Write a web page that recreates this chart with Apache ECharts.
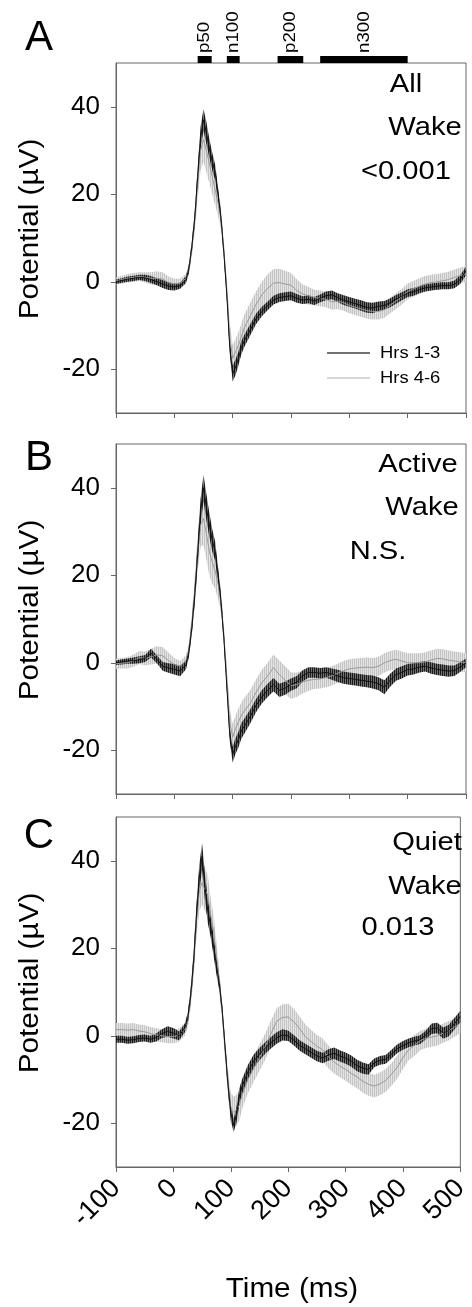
<!DOCTYPE html>
<html><head><meta charset="utf-8">
<script src="https://cdn.jsdelivr.net/npm/echarts@6/dist/echarts.min.js"></script>
<style>html,body{margin:0;padding:0;background:#fff}#c{width:472px;height:1307px}</style>
</head><body><div id="c"></div>
<script>
// ---- data ----
const time = [
 -100,-90,-80,-70,-60,-50,-40,-30,-20,-10,
 0,10,20,25,30,35,40,45,50,55,
 60,65,70,75,80,85,90,95,100,105,
 110,115,120,130,140,150,160,170,180,190,
 200,210,220,230,240,250,260,270,280,290,
 300,310,320,330,340,350,360,370,380,390,
 400,410,420,430,440,450,460,470,480,490,
 500];

// Panel A (All Wake)
const aDarkMean = [
 0.0,0.3,0.6,0.8,1.0,0.9,0.5,0.0,-0.5,-1.0,
 -1.2,-0.9,0.5,3.0,8.0,14.5,24.0,33.0,37.0,34.0,
 30.5,27.5,25.0,20.0,14.5,6.5,-3.0,-15.0,-21.0,-19.5,
 -17.5,-15.0,-13.5,-11.0,-8.5,-6.8,-5.5,-4.2,-3.6,-3.4,
 -3.2,-3.8,-4.2,-4.0,-4.4,-3.8,-3.2,-3.0,-3.6,-4.2,
 -4.6,-5.0,-5.4,-5.9,-6.0,-5.6,-5.4,-4.8,-4.0,-3.3,
 -2.6,-2.3,-1.8,-1.4,-1.2,-1.0,-0.9,-0.9,-0.6,0.5,
 2.5];
const aDarkSem = [
 0.5,0.5,0.6,0.6,0.6,0.7,0.8,0.8,0.9,0.9,
 0.8,0.7,0.8,1.0,1.2,1.5,2.0,2.5,2.5,2.5,
 2.2,2.0,1.8,1.5,1.2,1.0,1.2,1.5,1.8,1.8,
 1.6,1.5,1.4,1.3,1.2,1.1,1.0,1.0,1.0,1.0,
 1.0,1.0,0.9,0.9,0.9,0.9,1.0,1.0,1.0,1.1,
 1.1,1.1,1.2,1.2,1.2,1.1,1.0,1.0,1.0,0.9,
 0.9,0.9,0.8,0.8,0.8,0.8,0.8,0.8,0.9,1.0,
 1.0];
const aLightMean = [
 0.2,0.5,0.8,1.0,1.2,1.0,0.8,0.8,0.6,-0.2,
 -0.5,-0.3,0.8,3.0,7.5,14.0,22.5,30.0,32.5,30.0,
 27.0,24.0,21.0,18.0,14.5,7.0,-2.0,-12.5,-17.5,-16.0,
 -14.5,-12.5,-10.5,-7.8,-5.2,-3.0,-1.5,-0.3,-0.2,-0.5,
 -0.8,-2.0,-2.8,-3.2,-3.6,-3.8,-4.0,-4.6,-4.4,-4.8,
 -5.4,-5.8,-6.2,-6.6,-6.8,-6.8,-6.4,-5.4,-4.4,-3.4,
 -2.2,-1.6,-1.0,-0.5,-0.2,0.0,0.2,0.5,1.0,1.4,
 1.8];
const aLightSem = [
 0.8,0.9,1.0,1.0,1.0,1.2,1.4,1.6,1.6,1.4,
 1.2,1.0,1.0,1.2,1.8,2.5,3.5,4.5,5.0,5.0,
 4.5,4.0,3.5,3.0,2.5,2.0,2.5,3.0,3.0,3.0,
 3.0,3.0,3.0,3.0,3.0,3.0,3.2,3.2,3.2,3.0,
 2.8,2.5,2.2,2.0,1.8,1.8,1.8,1.8,1.8,1.8,
 1.8,1.8,1.8,1.8,1.8,1.8,1.8,1.8,1.8,1.8,
 1.8,1.8,1.8,1.8,1.8,1.8,1.8,1.8,1.8,1.8,
 1.8];

// Panel B (Active Wake)
const bDarkMean = [
 0.0,0.2,0.4,0.5,0.7,1.0,2.2,0.8,-0.8,-1.2,
 -1.5,-1.9,-0.5,2.5,8.0,15.5,25.0,34.5,40.0,35.5,
 31.5,28.0,25.5,20.0,14.0,5.5,-5.5,-16.5,-21.0,-19.0,
 -17.5,-15.5,-14.5,-12.3,-9.8,-7.8,-6.3,-5.0,-6.3,-5.8,
 -5.0,-4.4,-3.0,-2.2,-2.2,-2.4,-2.2,-2.6,-3.0,-3.4,
 -3.6,-3.8,-4.0,-4.2,-4.4,-4.8,-5.6,-4.0,-2.7,-2.2,
 -1.6,-1.4,-1.0,-0.8,-1.2,-1.5,-1.7,-1.9,-1.8,-1.0,
 0.0];
const bDarkSem = [
 0.5,0.6,0.6,0.7,0.8,0.8,1.0,0.9,1.0,1.1,
 1.2,1.2,1.0,1.2,1.5,2.0,2.5,3.0,3.0,3.0,
 2.8,2.5,2.2,1.8,1.4,1.0,1.2,1.5,1.8,1.8,
 1.8,1.8,1.7,1.6,1.5,1.5,1.5,1.5,1.5,1.5,
 1.4,1.4,1.3,1.2,1.2,1.2,1.2,1.3,1.4,1.4,
 1.4,1.4,1.4,1.4,1.5,1.5,1.6,1.5,1.4,1.4,
 1.3,1.3,1.2,1.2,1.3,1.3,1.3,1.3,1.2,1.1,
 1.0];
const bLightMean = [
 -0.2,-0.1,0.0,0.5,1.2,1.0,1.4,1.8,1.6,0.5,
 -0.4,-0.8,0.5,3.0,9.0,16.5,25.0,31.5,33.0,29.5,
 25.5,23.0,21.0,18.0,14.0,6.0,-3.5,-13.5,-17.0,-15.0,
 -13.5,-12.0,-11.0,-9.3,-6.8,-4.6,-3.0,-1.1,-2.7,-4.0,
 -5.2,-5.0,-4.4,-4.0,-3.8,-3.7,-3.4,-3.0,-2.4,-1.8,
 -1.4,-1.2,-1.1,-1.0,-1.1,-0.8,0.0,0.5,0.8,0.4,
 0.0,0.0,0.0,0.2,0.6,1.0,0.9,0.6,0.4,0.2,
 0.0];
const bLightSem = [
 1.2,1.2,1.3,1.4,1.5,1.6,1.8,2.0,2.0,1.8,
 1.5,1.2,1.2,1.5,2.2,3.0,4.0,5.0,6.0,6.0,
 5.5,5.0,4.0,3.5,2.8,2.2,2.5,3.0,3.0,3.0,
 3.0,3.0,3.0,3.0,3.0,3.0,3.0,3.0,3.2,3.2,
 3.0,2.8,2.6,2.4,2.2,2.2,2.2,2.2,2.2,2.2,
 2.2,2.2,2.2,2.2,2.2,2.2,2.2,2.2,2.2,2.2,
 2.2,2.2,2.2,2.2,2.2,2.2,2.2,2.2,2.2,2.2,
 2.2];

// Panel C (Quiet Wake)
const cDarkMean = [
 -0.8,-0.8,-1.0,-0.9,-0.6,-0.5,-0.8,-0.4,0.5,1.0,
 0.6,0.0,1.8,4.0,9.0,16.5,27.0,36.0,41.0,34.0,
 28.5,25.0,20.5,16.0,12.0,6.0,-2.5,-11.0,-17.5,-20.5,
 -18.0,-13.8,-11.5,-8.2,-5.8,-4.2,-2.8,-1.6,-0.5,0.2,
 0.0,-1.0,-2.2,-3.0,-3.8,-4.6,-5.1,-4.4,-4.0,-4.6,
 -5.1,-5.8,-6.8,-7.4,-7.7,-6.2,-5.6,-5.4,-4.2,-3.0,
 -2.2,-1.6,-1.2,-0.9,0.2,1.6,1.8,0.6,1.2,2.8,
 4.4];
const cDarkSem = [
 0.8,0.8,0.8,0.8,0.8,0.8,0.8,0.9,1.0,1.2,
 1.2,1.0,1.0,1.2,1.5,2.0,2.5,3.0,3.0,3.0,
 2.8,2.5,2.2,2.0,1.6,1.2,1.2,1.5,1.8,1.5,
 1.8,1.8,1.7,1.6,1.5,1.4,1.3,1.3,1.3,1.3,
 1.2,1.2,1.2,1.2,1.2,1.2,1.2,1.3,1.3,1.3,
 1.3,1.3,1.3,1.3,1.2,1.0,1.0,1.0,1.0,1.0,
 1.0,1.0,1.0,1.0,1.0,1.2,1.2,1.3,1.3,1.3,
 1.3];
const cLightMean = [
 1.4,1.4,1.3,1.4,1.1,0.9,0.5,0.2,0.0,-0.2,
 -0.2,0.2,1.5,3.5,8.5,16.0,26.0,33.0,35.0,33.5,
 32.0,27.5,24.0,18.5,12.5,5.5,-3.0,-10.5,-16.5,-17.5,
 -17.0,-15.8,-13.5,-10.0,-7.5,-5.0,-2.5,0.5,3.3,4.2,
 4.3,3.2,1.6,-0.2,-1.3,-2.4,-3.2,-4.8,-6.0,-6.9,
 -7.7,-8.6,-9.4,-10.4,-11.1,-11.5,-11.0,-10.2,-8.8,-7.2,
 -5.0,-3.2,-2.2,-1.1,-0.6,-0.3,0.0,0.6,1.2,2.0,
 2.9];
const cLightSem = [
 1.5,1.5,1.5,1.5,1.5,1.5,1.5,1.5,1.5,1.5,
 1.5,1.5,1.5,1.8,2.2,3.0,4.0,4.5,5.0,5.0,
 4.5,4.0,3.5,3.0,2.5,2.0,2.5,3.0,3.5,3.5,
 3.5,3.5,3.2,3.0,3.0,3.0,3.0,3.0,3.0,3.0,
 3.0,3.0,2.8,2.8,2.6,2.6,2.6,2.6,2.6,2.6,
 2.6,2.6,2.6,2.6,2.6,2.6,2.6,2.6,2.6,2.6,
 2.6,2.4,2.4,2.2,2.2,2.2,2.2,2.2,2.2,2.2,
 2.2];

const xTicks = [-100,0,100,200,300,400,500];
const yTicks = [-20,0,20,40];
const compNames = ['p50','n100','p200','n300'];
const compStart = [40,90,177,250];
const compEnd = [64,112,221,400];
const panelLetters = ['A','B','C'];
const panelNotes = [['All','Wake','<0.001'],['Active','Wake','N.S.'],['Quiet','Wake','0.013']];
const legendNames = ['Hrs 1-3','Hrs 4-6'];
const yTitle = 'Potential (\u00b5V)';
const xTitle = 'Time (ms)';

// ---- drawing ----
const FONT = "'Liberation Sans', Arial, sans-serif";
const panels = [
  {dm:aDarkMean, ds:aDarkSem, lm:aLightMean, ls:aLightSem},
  {dm:bDarkMean, ds:bDarkSem, lm:bLightMean, ls:bLightSem},
  {dm:cDarkMean, ds:cDarkSem, lm:cLightMean, ls:cLightSem}
];
const gridTops = [63, 444, 817];
const gridH = 350;

function stripes(c1, c2, w1, w2) {
  const cv = document.createElement('canvas');
  cv.width = w1 + w2; cv.height = 4;
  const ctx = cv.getContext('2d');
  ctx.fillStyle = c2; ctx.fillRect(0, 0, w1 + w2, 4);
  ctx.fillStyle = c1; ctx.fillRect(0, 0, w1, 4);
  return {image: cv, repeat: 'repeat'};
}
const darkFill = stripes('#1a1a1a', '#707070', 1, 1);
const lightFill = stripes('#c4c4c4', '#e4e4e4', 1, 1);

const grid = [], xAxis = [], yAxis = [], series = [], graphic = [];
panels.forEach((p, i) => {
  grid.push({left: 116, width: 350, top: gridTops[i], height: gridH,
    show: true, borderColor: '#666', borderWidth: 1});
  xAxis.push({type: 'value', gridIndex: i, min: -100, max: 500, interval: 100,
    axisLine: {show: true, onZero: false, lineStyle: {color: '#666'}},
    axisTick: {show: true, length: 5, lineStyle: {color: '#666'}},
    splitLine: {show: false},
    axisLabel: {show: i === 2, rotate: 45, fontSize: 27, fontFamily: FONT, color: '#000', margin: 17,
      formatter: v => String(v)}
  });
  yAxis.push({type: 'value', gridIndex: i, min: -30, max: 50,
    axisLine: {show: true, onZero: false, lineStyle: {color: '#666'}},
    axisTick: {show: true, length: 5, lineStyle: {color: '#666'}, customValues: yTicks},
    splitLine: {show: false},
    axisLabel: {show: true, fontSize: 26, fontFamily: FONT, color: '#000', margin: 16, customValues: yTicks}
  });
  const band = (mean, sem, fill, z) => ({
    type: 'custom', xAxisIndex: i, yAxisIndex: i, data: [[0, 0]], silent: true, z: z,
    renderItem: (params, api) => {
      const pts = [];
      for (let k = 0; k < time.length; k++) pts.push(api.coord([time[k], mean[k] + sem[k]]));
      for (let k = time.length - 1; k >= 0; k--) pts.push(api.coord([time[k], mean[k] - sem[k]]));
      return {type: 'polygon', shape: {points: pts}, style: {fill: fill, stroke: null}};
    }
  });
  series.push(band(p.lm, p.ls, lightFill, 2));
  series.push(band(p.dm, p.ds, darkFill, 3));
  series.push({type: 'line', name: legendNames[1], xAxisIndex: i, yAxisIndex: i, z: 4,
    data: time.map((t, k) => [t, p.lm[k]]), showSymbol: false, symbol: 'none', silent: true,
    lineStyle: {color: '#9a9a9a', width: 1}});
  series.push({type: 'line', name: legendNames[0], xAxisIndex: i, yAxisIndex: i, z: 5,
    data: time.map((t, k) => [t, p.dm[k]]), showSymbol: false, symbol: 'none', silent: true,
    lineStyle: {color: '#111', width: 1}});

  graphic.push({type: 'text', x: 39, y: [38, 458, 836][i], style: {text: panelLetters[i],
    font: `42px ${FONT}`, fill: '#000', textAlign: 'center', textVerticalAlign: 'middle'}});
  graphic.push({type: 'text', x: 31, y: gridTops[i] + 166, rotation: Math.PI / 2, scaleX: 1.1,
    style: {text: yTitle, font: `27px ${FONT}`, fill: '#000', textAlign: 'center', textVerticalAlign: 'middle'}});
});

// component bars above panel A
series.push({type: 'custom', xAxisIndex: 0, yAxisIndex: 0, clip: false, silent: true, z: 6,
  data: compNames.map((n, k) => [compStart[k], compEnd[k], k]),
  renderItem: (params, api) => {
    const k = api.value(2);
    const a = api.coord([api.value(0), 50]);
    const b = api.coord([api.value(1), 50]);
    return {type: 'group', children: [
      {type: 'rect', shape: {x: a[0], y: a[1] - 7, width: b[0] - a[0], height: 7}, style: {fill: '#000'}},
      {type: 'text', x: (a[0] + b[0]) / 2, y: a[1] - 10, rotation: Math.PI / 2, scaleX: 1.1,
        style: {text: compNames[k], font: `17px ${FONT}`, fill: '#000', textAlign: 'left', textVerticalAlign: 'middle'}}
    ]};
  }
});

// annotations
const notePos = [
  [[406, 85], [425, 128], [406, 172]],
  [[418, 465], [422, 508], [378, 552]],
  [[427, 843], [425, 887], [398, 928]]
];
panelNotes.forEach((notes, i) => notes.forEach((t, j) => {
  graphic.push({type: 'text', x: notePos[i][j][0], y: notePos[i][j][1], scaleX: 1.12,
    style: {text: t, font: `26px ${FONT}`, fill: '#000', textAlign: 'center', textVerticalAlign: 'middle'}});
}));

// legend (panel A)
graphic.push({type: 'line', shape: {x1: 327, y1: 353, x2: 370, y2: 353}, style: {stroke: '#444', lineWidth: 1.5}});
graphic.push({type: 'line', shape: {x1: 327, y1: 378, x2: 370, y2: 378}, style: {stroke: '#c8c8c8', lineWidth: 1.5}});
graphic.push({type: 'text', x: 380, y: 354, scaleX: 1.15, style: {text: legendNames[0], font: `16px ${FONT}`, fill: '#000', textAlign: 'left', textVerticalAlign: 'middle'}});
graphic.push({type: 'text', x: 380, y: 379, scaleX: 1.15, style: {text: legendNames[1], font: `16px ${FONT}`, fill: '#000', textAlign: 'left', textVerticalAlign: 'middle'}});

graphic.push({type: 'text', x: 292, y: 1290, scaleX: 1.1,
  style: {text: xTitle, font: `27px ${FONT}`, fill: '#000', textAlign: 'center', textVerticalAlign: 'middle'}});

const chart = echarts.init(document.getElementById('c'), null, {renderer: 'canvas'});
chart.setOption({animation: false, backgroundColor: '#fff', grid, xAxis, yAxis, series, graphic});
</script></body></html>
